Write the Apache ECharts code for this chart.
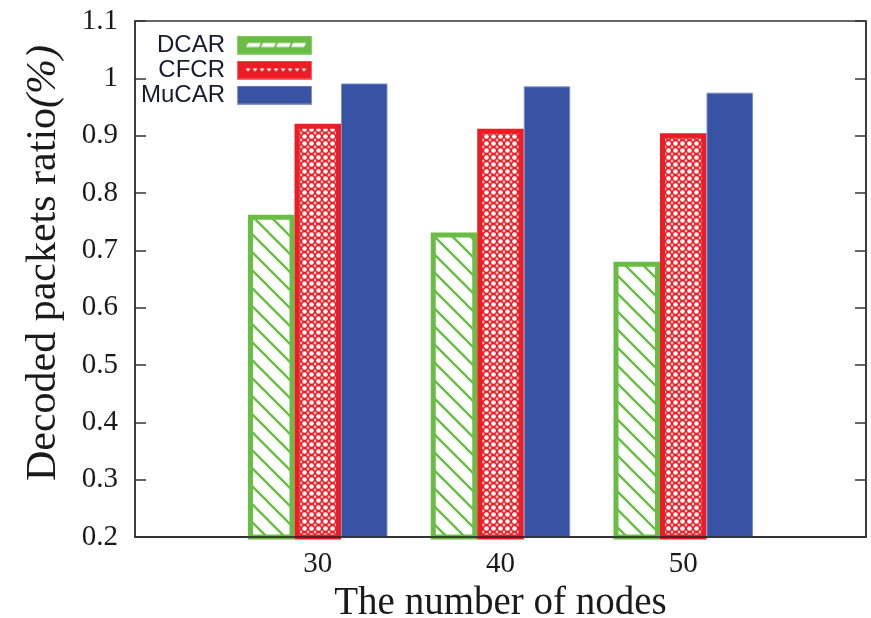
<!DOCTYPE html>
<html>
<head>
<meta charset="utf-8">
<script src="https://cdn.jsdelivr.net/npm/echarts@6/dist/echarts.min.js"></script>
<style>
  html, body { margin: 0; padding: 0; background: #ffffff; }
  #chart { width: 871px; height: 618px; }
</style>
</head>
<body>
<div id="chart"></div>
<script>
// Node counts on the x axis
const categories = ['30', '40', '50'];
// Decoded packets ratio per scheme
const dcarValues = [0.762, 0.731, 0.680];
const cfcrValues = [0.921, 0.912, 0.904];
const mucarValues = [0.991, 0.986, 0.975];
const seriesNames = ['DCAR', 'CFCR', 'MuCAR'];

const GREEN = '#69bd45';
const RED = '#ec1d25';
const BLUE = '#3953a4';

function makeCanvas(w, h) {
  const c = document.createElement('canvas');
  c.width = w; c.height = h;
  return c;
}

// White fill crossed by green "\" hatching
function hatchPattern() {
  const s = 18;
  const c = makeCanvas(s, s);
  const g = c.getContext('2d');
  g.fillStyle = '#ffffff';
  g.fillRect(0, 0, s, s);
  g.strokeStyle = GREEN;
  g.lineWidth = 2.4;
  for (const off of [-s, 0, s]) {
    g.beginPath();
    g.moveTo(off - 2, -2);
    g.lineTo(off + s + 2, s + 2);
    g.stroke();
  }
  return c;
}

// Red fill dotted with white
function dotPattern() {
  const s = 7;
  const c = makeCanvas(s, s);
  const g = c.getContext('2d');
  g.fillStyle = RED;
  g.fillRect(0, 0, s, s);
  g.fillStyle = '#ffffff';
  g.beginPath();
  g.arc(s / 2, s / 2, 2.3, 0, Math.PI * 2);
  g.fill();
  g.fillStyle = 'rgba(255,255,255,0.75)';
  for (const [x, y] of [[0, 0], [s, 0], [0, s], [s, s]]) {
    g.beginPath();
    g.arc(x, y, 1.4, 0, Math.PI * 2);
    g.fill();
  }
  return c;
}

// Legend swatches
function legendIcon(kind) {
  const w = 75, h = 19;
  const c = makeCanvas(w, h);
  const g = c.getContext('2d');
  if (kind === 'DCAR') {
    g.fillStyle = GREEN;
    g.fillRect(0, 0, w, h);
    g.fillStyle = '#ffffff';
    for (let x = 9; x < 66; x += 15) {
      g.beginPath();
      g.moveTo(x + 2, 7.5);
      g.lineTo(x + 15, 7.5);
      g.lineTo(x + 13, 11.5);
      g.lineTo(x, 11.5);
      g.closePath();
      g.fill();
    }
    g.strokeStyle = '#8fd06f';
    g.lineWidth = 1;
    g.strokeRect(0.5, 0.5, w - 1, h - 1);
  } else if (kind === 'CFCR') {
    g.fillStyle = RED;
    g.fillRect(0, 0, w, h);
    g.fillStyle = '#ffffff';
    for (let x = 11; x < 68; x += 7) {
      g.beginPath();
      g.moveTo(x - 2.5, 8);
      g.lineTo(x + 2.5, 8);
      g.lineTo(x, 11);
      g.closePath();
      g.fill();
    }
    g.strokeStyle = '#f56a6f';
    g.lineWidth = 1;
    g.strokeRect(0.5, 0.5, w - 1, h - 1);
  } else {
    g.fillStyle = BLUE;
    g.fillRect(0, 0, w, h);
    g.strokeStyle = '#8796cc';
    g.lineWidth = 1;
    g.strokeRect(0.5, 0.5, w - 1, h - 1);
  }
  return 'image://' + c.toDataURL();
}

const chart = echarts.init(document.getElementById('chart'), null, { renderer: 'canvas' });

// Padded axis so the three groups sit at 1/4, 2/4, 3/4 of the width
const axisCategories = [''].concat(categories, ['']);
const pad = arr => [null].concat(arr, [null]);

const serif = '"Liberation Serif", "Times New Roman", serif';
const sans = '"Liberation Sans", Arial, sans-serif';
const BAR_W = 46.5;

const option = {
  animation: false,
  backgroundColor: '#ffffff',
  grid: {
    left: 135, right: 5, top: 21, bottom: 81,
    show: true, borderColor: '#333333', borderWidth: 1.5,
    backgroundColor: 'transparent',
    outerBoundsMode: 'none'
  },
  legend: {
    orient: 'vertical',
    align: 'right',
    left: 141, top: 33,
    padding: 0,
    itemWidth: 75, itemHeight: 19, itemGap: 1,
    symbolKeepAspect: false,
    selectedMode: false,
    textStyle: {
      fontFamily: sans, fontSize: 24, color: '#1a1a2e',
      lineHeight: 24, padding: [0, 7, 0, 0]
    },
    data: seriesNames.map(n => ({ name: n, icon: legendIcon(n) }))
  },
  xAxis: {
    type: 'category',
    data: axisCategories,
    boundaryGap: false,
    z: 10,
    axisLine: { show: true, lineStyle: { color: '#222222', width: 1.5 } },
    axisTick: { show: false },
    splitLine: { show: false },
    axisLabel: {
      interval: 0, margin: 13,
      fontFamily: serif, fontSize: 29, color: '#1a1a1a'
    },
    name: 'The number of nodes',
    nameLocation: 'middle',
    nameGap: 42,
    nameTextStyle: { fontFamily: serif, fontSize: 39, color: '#1a1a1a' }
  },
  yAxis: [
    {
      type: 'value',
      min: 0.2, max: 1.1, interval: 0.1,
      position: 'left',
      z: 10,
      axisLine: { show: true, lineStyle: { color: '#333333', width: 1.5 } },
      axisTick: { show: true, inside: true, length: 11, lineStyle: { color: '#333333', width: 1.5 } },
      splitLine: { show: false },
      axisLabel: {
        margin: 17,
        fontFamily: serif, fontSize: 29, color: '#1a1a1a',
        formatter: v => String(Math.round(v * 10) / 10)
      },
      name: 'Decoded packets ratio{i|(%)}',
      nameLocation: 'middle',
      nameRotate: 90,
      nameGap: 70,
      nameTextStyle: {
        fontFamily: serif, fontSize: 42, color: '#1a1a1a',
        padding: [0, 0, 0, 32],
        rich: { i: { fontFamily: serif, fontSize: 42, fontStyle: 'italic', color: '#1a1a1a' } }
      }
    },
    {
      type: 'value',
      min: 0.2, max: 1.1, interval: 0.1,
      position: 'right',
      z: 10,
      axisLine: { show: true, lineStyle: { color: '#333333', width: 1.5 } },
      axisTick: { show: true, inside: true, length: 11, lineStyle: { color: '#333333', width: 1.5 } },
      splitLine: { show: false },
      axisLabel: { show: false }
    }
  ],
  series: [
    {
      name: 'DCAR', type: 'bar', barWidth: BAR_W, barGap: '0%',
      data: pad(dcarValues),
      itemStyle: {
        color: { image: hatchPattern(), repeat: 'repeat' },
        borderColor: GREEN, borderWidth: 5
      }
    },
    {
      name: 'CFCR', type: 'bar', barWidth: BAR_W, barGap: '0%',
      data: pad(cfcrValues),
      itemStyle: {
        color: { image: dotPattern(), repeat: 'repeat' },
        borderColor: RED, borderWidth: 5
      }
    },
    {
      name: 'MuCAR', type: 'bar', barWidth: BAR_W, barGap: '0%',
      data: pad(mucarValues),
      itemStyle: { color: BLUE, borderColor: '#7f8fc9', borderWidth: 1 }
    }
  ]
};

chart.setOption(option);
</script>
</body>
</html>
